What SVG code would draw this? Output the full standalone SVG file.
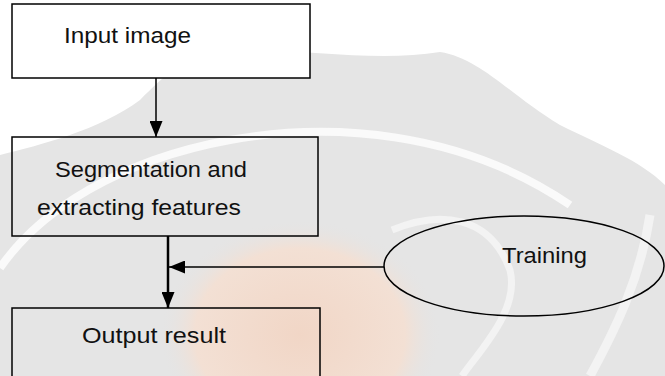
<svg xmlns="http://www.w3.org/2000/svg" width="665" height="376" viewBox="0 0 665 376">
<defs>
<style>
.box{fill:none;stroke:#000;stroke-width:1.5}
.lbl{font-family:"Liberation Sans",Arial,sans-serif;font-size:22px;fill:#111}
.ln{stroke:#000;fill:none}
</style>
<marker id="ah2" viewBox="0 0 10 10" refX="10" refY="5" markerWidth="16" markerHeight="13" markerUnits="userSpaceOnUse" orient="auto" preserveAspectRatio="none">
<path d="M0,0 L10,5 L0,10 Z" fill="#000"/>
</marker>
<radialGradient id="og" cx="0.5" cy="0.5" r="0.5">
<stop offset="0" stop-color="#f1d6c6"/>
<stop offset="0.75" stop-color="#f3e0d4"/>
<stop offset="1" stop-color="#e4e4e4" stop-opacity="0"/>
</radialGradient>
</defs>
<rect width="665" height="376" fill="#fff"/>
<g id="watermark">
<path d="M0,155 C40,145 100,130 140,100 C165,75 185,55 230,48 C300,50 380,62 440,52 C480,58 510,95 560,125 C600,145 640,160 665,185 L665,376 L0,376 Z" fill="#e5e5e5"/>
<path d="M0,268 C40,210 120,160 230,140 C330,122 460,130 570,205" fill="none" stroke="#fafafa" stroke-width="8"/>
<ellipse cx="300" cy="335" rx="140" ry="115" fill="url(#og)"/>
<path d="M392,230 C440,210 490,215 510,270 C520,310 480,350 462,376" fill="none" stroke="#f3f3f3" stroke-width="7"/>
<path d="M650,215 C640,280 615,330 590,376" fill="none" stroke="#f3f3f3" stroke-width="9"/>
</g>
<g id="connectors">
<line class="ln" x1="156" y1="78" x2="156" y2="137" stroke-width="1.5" marker-end="url(#ah2)"/>
<line class="ln" x1="168" y1="236" x2="168" y2="308" stroke-width="2.5" marker-end="url(#ah2)"/>
<line class="ln" x1="384" y1="267" x2="169" y2="267" stroke-width="1.5" marker-end="url(#ah2)"/>
</g>
<g id="input">
<rect x="12" y="4" width="298" height="74" fill="#fff" stroke="#000" stroke-width="1.5"/>
<text class="lbl" x="64" y="43" textLength="127" lengthAdjust="spacingAndGlyphs">Input image</text>
</g>
<g id="segmentation">
<rect class="box" x="12" y="137" width="306" height="99"/>
<text class="lbl" x="55" y="177" textLength="192" lengthAdjust="spacingAndGlyphs">Segmentation and</text>
<text class="lbl" x="37" y="215" textLength="204" lengthAdjust="spacingAndGlyphs">extracting features</text>
</g>
<g id="output">
<rect class="box" x="12" y="308" width="308" height="80"/>
<text class="lbl" x="82" y="343" textLength="144" lengthAdjust="spacingAndGlyphs">Output result</text>
</g>
<g id="training">
<ellipse cx="524" cy="266" rx="140" ry="50" fill="none" stroke="#000" stroke-width="1.5"/>
<text class="lbl" x="502" y="263" textLength="85" lengthAdjust="spacingAndGlyphs">Training</text>
</g>
</svg>
